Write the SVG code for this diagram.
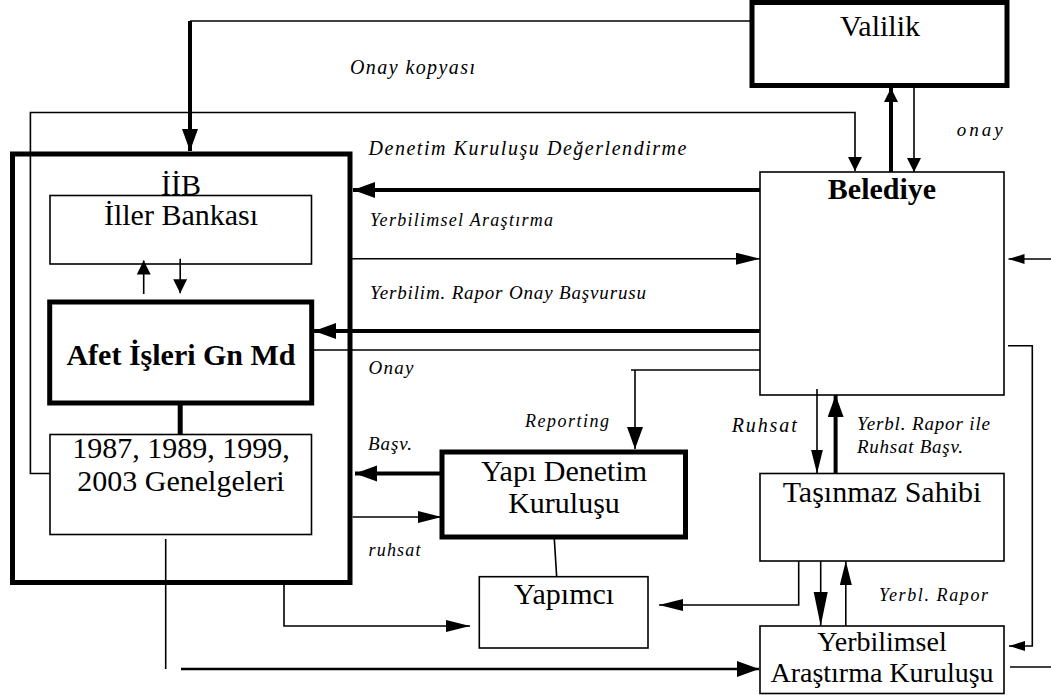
<svg xmlns="http://www.w3.org/2000/svg" width="1051" height="695" viewBox="0 0 1051 695">
<style>
.box{fill:#fff;stroke:#000;stroke-width:1.6}
.tbox{fill:#fff;stroke:#000;stroke-width:5}
.ln{fill:none;stroke:#000;stroke-width:1.6}
.tk{fill:none;stroke:#000;stroke-width:4}
.t{font-size:30px;fill:#000;text-anchor:middle}
.b{font-weight:bold}
.lb{font-style:italic;font-size:19px;fill:#000}
</style>
<defs>
<marker id="hBig" markerUnits="userSpaceOnUse" markerWidth="23" markerHeight="17" refX="22" refY="8" orient="auto"><path d="M0,0 L22,8 L0,16 z"/></marker>
<marker id="hThin" markerUnits="userSpaceOnUse" markerWidth="25" markerHeight="13" refX="24" refY="6" orient="auto"><path d="M0,0 L24,6 L0,12 z"/></marker>
<marker id="hSmall" markerUnits="userSpaceOnUse" markerWidth="15" markerHeight="15" refX="14" refY="7" orient="auto"><path d="M0,0 L14,7 L0,14 z"/></marker>
<marker id="hShort" markerUnits="userSpaceOnUse" markerWidth="17" markerHeight="11" refX="16" refY="5" orient="auto"><path d="M0,0 L16,5 L0,10 z"/></marker>
<marker id="hLong" markerUnits="userSpaceOnUse" markerWidth="35" markerHeight="15" refX="34" refY="7" orient="auto"><path d="M0,0 L34,7 L0,14 z"/></marker>
</defs>
<rect width="1051" height="695" fill="#fff"/>

<g font-family="'Liberation Serif', 'Times New Roman', Tinos, 'DejaVu Serif', serif">
<g id="iib">
<rect class="tbox" x="12.5" y="154" width="337.5" height="428.5"/>
<text class="t" x="181" y="195">İİB</text>
</g>
<g id="iller-bankasi">
<rect class="box" x="50" y="195.5" width="261.5" height="68.5"/>
<text class="t" x="181" y="225">İller Bankası</text>
</g>
<g id="afet">
<rect class="tbox" x="49.7" y="302" width="262" height="101"/>
<text class="t b" x="181" y="365">Afet İşleri Gn Md</text>
</g>
<g id="genelgeler">
<rect class="box" x="50" y="434.5" width="261.5" height="100"/>
<text class="t" x="181" y="458">1987, 1989, 1999,</text>
<text class="t" x="181" y="490.5">2003 Genelgeleri</text>
</g>
<g id="valilik">
<rect class="tbox" x="752" y="2.5" width="255" height="83"/>
<text class="t" x="880" y="36">Valilik</text>
</g>
<g id="belediye">
<rect class="box" x="760" y="172" width="244" height="223"/>
<text class="t b" x="882" y="199">Belediye</text>
</g>
<g id="yapi-denetim">
<rect class="tbox" x="442" y="452" width="243.5" height="85"/>
<text class="t" x="564" y="481">Yapı Denetim</text>
<text class="t" x="564" y="512.7">Kuruluşu</text>
</g>
<g id="yapimci">
<rect class="box" x="479.3" y="576.7" width="168.7" height="71.3"/>
<text class="t" x="564" y="604">Yapımcı</text>
</g>
<g id="tasinmaz">
<rect class="box" x="760" y="473.5" width="244" height="87.5"/>
<text class="t" x="882" y="502">Taşınmaz Sahibi</text>
</g>
<g id="yerbilimsel">
<rect class="box" x="760" y="626" width="244" height="67.5"/>
<text class="t" x="882" y="651" style="font-size:28px">Yerbilimsel</text>
<text class="t" x="882" y="682" style="font-size:28px">Araştırma Kuruluşu</text>
</g>

<g id="connectors">
<path class="ln" d="M752,21 H190"/>
<path class="tk" d="M190,21 V151" marker-end="url(#hBig)"/>
<path class="ln" d="M50,473.5 H30.4 V112.5 H855 V171" marker-end="url(#hSmall)"/>
<path class="tk" d="M891,172 V88" marker-end="url(#hSmall)"/>
<path class="ln" d="M914,87 V172" marker-end="url(#hSmall)"/>
<path class="tk" d="M760,190 H353" marker-end="url(#hBig)"/>
<path class="ln" d="M352,258.7 H760" marker-end="url(#hThin)"/>
<path class="tk" d="M760,331 H314" marker-end="url(#hBig)"/>
<path class="ln" d="M760,350 H311.7"/>
<path class="ln" d="M760,370 H631"/>
<path class="ln" d="M635,370 V449" marker-end="url(#hBig)"/>
<path class="ln" d="M817,389 V473.5" marker-end="url(#hThin)"/>
<path class="tk" d="M835.6,473.5 V395" marker-end="url(#hBig)"/>
<path class="ln" d="M1051,259 H1008.5" marker-end="url(#hShort)"/>
<path class="ln" d="M1008,345.7 H1032.3 V646 H1009" marker-end="url(#hShort)"/>
<path class="ln" d="M1010,667 H1051"/>
<path class="ln" d="M820.7,561 V626" marker-end="url(#hLong)"/>
<path class="ln" d="M845.8,626 V561" marker-end="url(#hThin)"/>
<path class="ln" d="M798.7,561 V605 H659" marker-end="url(#hThin)"/>
<path class="ln" d="M554.3,539 L556.7,576.7"/>
<path class="tk" d="M442,473.5 H355" marker-end="url(#hBig)"/>
<path class="ln" d="M352.6,517 H441.7" marker-end="url(#hThin)"/>
<path class="ln" d="M284,585 V626 H470" marker-end="url(#hThin)"/>
<path class="ln" d="M165.7,539 V669"/>
<path class="ln" d="M181,669 H759" style="stroke-width:2.5" marker-end="url(#hBig)"/>
<path class="ln" d="M143.7,294 V260.5" marker-end="url(#hSmall)"/>
<path class="ln" d="M180.2,258.7 V293.2" marker-end="url(#hSmall)"/>
<path d="M180.2,403 V434.5" stroke="#000" stroke-width="5"/>
</g>

<g id="labels">
<text class="lb" x="350" y="73.7" style="font-size:20px" textLength="125" lengthAdjust="spacing">Onay kopyası</text>
<text class="lb" x="368.5" y="154.5" style="font-size:20px" textLength="318" lengthAdjust="spacing">Denetim Kuruluşu Değerlendirme</text>
<text class="lb" x="370" y="225.8" style="font-size:18px" textLength="183" lengthAdjust="spacing">Yerbilimsel Araştırma</text>
<text class="lb" x="370" y="298.6" textLength="276" lengthAdjust="spacing">Yerbilim. Rapor Onay Başvurusu</text>
<text class="lb" x="368.5" y="373.7" textLength="45" lengthAdjust="spacing">Onay</text>
<text class="lb" x="525" y="427" style="font-size:18px" textLength="84" lengthAdjust="spacing">Reporting</text>
<text class="lb" x="731.7" y="432" style="font-size:20px" textLength="65" lengthAdjust="spacing">Ruhsat</text>
<text class="lb" x="857" y="430" textLength="133" lengthAdjust="spacing">Yerbl. Rapor ile</text>
<text class="lb" x="857" y="453" textLength="106" lengthAdjust="spacing">Ruhsat Başv.</text>
<text class="lb" x="368" y="450" textLength="44" lengthAdjust="spacing">Başv.</text>
<text class="lb" x="368.5" y="556" style="font-size:18px" textLength="52" lengthAdjust="spacing">ruhsat</text>
<text class="lb" x="879" y="600.5" style="font-size:18px" textLength="109" lengthAdjust="spacing">Yerbl. Rapor</text>
<text class="lb" x="956.8" y="135.5" textLength="46" lengthAdjust="spacing">onay</text>
</g>
</g>
</svg>
